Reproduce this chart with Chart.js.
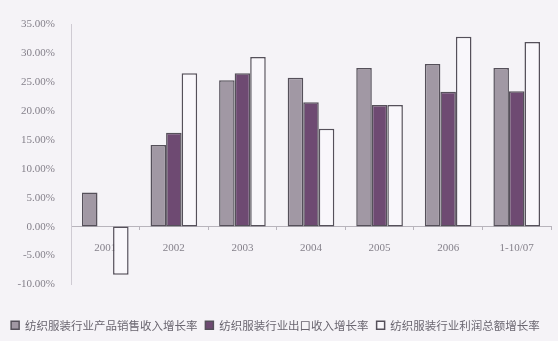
<!DOCTYPE html>
<html>
<head>
<meta charset="utf-8">
<script src="https://cdn.jsdelivr.net/npm/chart.js@4/dist/chart.umd.min.js"></script>
<style>
  html, body { margin: 0; padding: 0; background: #f5f3f7; }
  #wrap { width: 558px; height: 341px; position: relative; }
</style>
</head>
<body>
<div id="wrap"><canvas id="chart" width="558" height="341"></canvas></div>
<script>
const categories = ["2001", "2002", "2003", "2004", "2005", "2006", "1-10/07"];
const seriesNames = [
  "纺织服装行业产品销售收入增长率",
  "纺织服装行业出口收入增长率",
  "纺织服装行业利润总额增长率"
];
const salesGrowth = [5.9, 14.1, 25.3, 25.7, 27.4, 28.1, 27.4];
const exportGrowth = [0, 16.2, 26.5, 21.5, 21.0, 23.3, 23.4];
const profitGrowth = [-8.3, 26.5, 29.3, 16.9, 21.0, 32.8, 31.9];
const yTicks = [-10, -5, 0, 5, 10, 15, 20, 25, 30, 35];

const COLORS = {
  sales: '#a198a4',
  exports: '#6e4a72',
  profit: '#f9f7fb',
  edge: '#55505a'
};

const ctx = document.getElementById('chart').getContext('2d');
new Chart(ctx, {
  type: 'bar',
  data: {
    labels: categories,
    datasets: [
      { label: seriesNames[0], data: salesGrowth, backgroundColor: COLORS.sales, borderColor: COLORS.edge, borderWidth: 1.5, borderSkipped: false },
      { label: seriesNames[1], data: exportGrowth, backgroundColor: COLORS.exports, borderColor: COLORS.edge, borderWidth: 1.5, borderSkipped: false },
      { label: seriesNames[2], data: profitGrowth, backgroundColor: COLORS.profit, borderColor: COLORS.edge, borderWidth: 1.5, borderSkipped: false }
    ]
  },
  options: {
    responsive: false,
    animation: false,
    layout: { padding: { top: 24, right: 7, left: 0, bottom: 0 } },
    datasets: { bar: { categoryPercentage: 0.68, barPercentage: 1.0 } },
    plugins: {
      tooltip: { enabled: false },
      legend: {
        position: 'bottom',
        labels: {
          boxWidth: 8, boxHeight: 8, padding: 8,
          color: '#6a6670',
          font: { family: '"Noto Sans CJK SC", sans-serif', size: 11.5 }
        }
      }
    },
    scales: {
      x: {
        position: { y: 0 },
        grid: { display: true, drawOnChartArea: false, offset: true, tickLength: 3, color: '#b8b4bc' },
        border: { display: true, color: '#b8b4bc', width: 1 },
        ticks: {
          color: '#85818b', padding: 12,
          font: { family: '"Liberation Serif", serif', size: 11 }
        }
      },
      spacer: {
        type: 'category',
        labels: categories,
        position: 'bottom',
        afterFit: (axis) => { axis.height = 27; },
        grid: { display: false },
        border: { display: false },
        ticks: { display: false }
      },
      y: {
        min: -10, max: 35,
        afterFit: (axis) => { axis.width = 71; },
        afterBuildTicks: (axis) => { axis.ticks = yTicks.map(v => ({ value: v })); },
        grid: { display: false },
        border: { display: true, color: '#cfcbd3', width: 1 },
        ticks: {
          color: '#85818b', padding: 8,
          font: { family: '"Liberation Serif", serif', size: 11 },
          callback: (v) => v.toFixed(2) + '%'
        }
      }
    }
  }
});
</script>
</body>
</html>
